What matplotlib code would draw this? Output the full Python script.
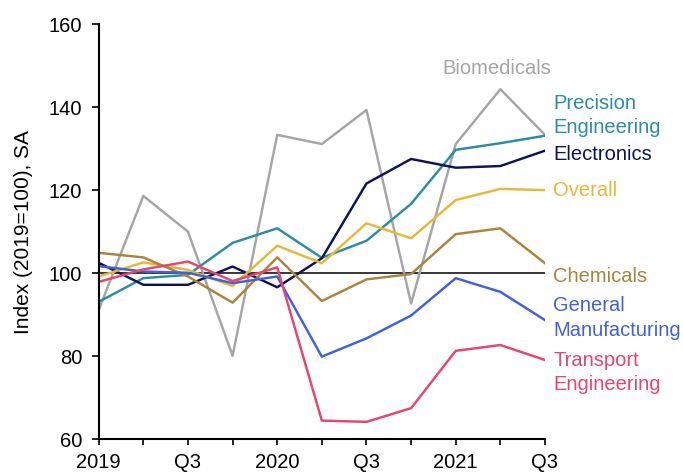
import matplotlib
matplotlib.use("Agg")
import matplotlib.pyplot as plt

plt.rcParams['font.family'] = ['Liberation Sans', 'DejaVu Sans']

quarters = ["2019", "", "Q3", "", "2020", "", "Q3", "", "2021", "", "Q3"]

biomedicals = [91.1, 118.6, 110.0, 80.1, 133.3, 131.1, 139.3, 92.7, 131.1, 144.3, 133.3]
precision = [93.1, 98.8, 99.6, 107.3, 110.8, 103.7, 107.8, 116.7, 129.7, 131.3, 133.1]
electronics = [102.5, 97.2, 97.2, 101.6, 96.6, 103.6, 121.6, 127.5, 125.4, 125.8, 129.5]
overall = [99.2, 102.6, 100.8, 96.9, 106.6, 102.4, 112.0, 108.4, 117.6, 120.3, 120.0]
chemicals = [104.9, 103.8, 99.2, 92.9, 103.8, 93.3, 98.5, 99.8, 109.4, 110.8, 102.4]
general = [101.7, 100.4, 100.1, 97.6, 99.2, 79.9, 84.3, 89.8, 98.8, 95.5, 88.7]
transport = [97.9, 100.9, 102.8, 98.1, 101.4, 64.5, 64.2, 67.5, 81.3, 82.7, 79.1]

series = [
    ("Biomedicals", biomedicals, "#a5a5a5"),
    ("Precision\nEngineering", precision, "#2a8ca6"),
    ("Electronics", electronics, "#0e1452"),
    ("Overall", overall, "#e6b83a"),
    ("Chemicals", chemicals, "#a8843c"),
    ("General\nManufacturing", general, "#4060dc"),
    ("Transport\nEngineering", transport, "#e84470"),
]

W, H = 683, 472
fig = plt.figure(figsize=(W / 100, H / 100), dpi=100)
left, right, top, bottom = 98.7, 545, 24, 439.3
ax = fig.add_axes([left / W, 1 - bottom / H, (right - left) / W, (bottom - top) / H])

x = list(range(len(quarters)))
ax.axhline(100, color="black", lw=1.1, zorder=1)
for name, vals, col in series:
    ax.plot(x, vals, color=col, lw=1.75, zorder=2)

ax.set_xlim(0, 10)
ax.set_ylim(60, 160)
ax.set_yticks([60, 80, 100, 120, 140, 160])
ax.set_xticks(x)
ax.set_xticklabels(quarters)
ax.tick_params(axis='both', labelsize=14.5, width=1.2, direction='out', colors='black')
ax.tick_params(axis='y', length=5, pad=7)
ax.tick_params(axis='x', length=4, pad=6)
for s in ['top', 'right']:
    ax.spines[s].set_visible(False)
for s in ['left', 'bottom']:
    ax.spines[s].set_linewidth(1.5)
ax.set_ylabel("Index (2019=100), SA", fontsize=15, va='center')
ax.yaxis.set_label_coords((24 - left) / (right - left), 0.5)

# labels
label_pos = {
    "Biomedicals": (497, 68, 'center'),
    "Precision\nEngineering": (553, 115.5, 'left'),
    "Electronics": (553, 155, 'left'),
    "Overall": (553, 190, 'left'),
    "Chemicals": (553, 276, 'left'),
    "General\nManufacturing": (553, 318, 'left'),
    "Transport\nEngineering": (553, 372.5, 'left'),
}
for name, vals, col in series:
    px, py, ha = label_pos[name]
    fig.text(px / W, 1 - py / H, name, color=col, fontsize=14.5, ha=ha, va='center',
             linespacing=1.38)

fig.savefig("out.png", dpi=100)
